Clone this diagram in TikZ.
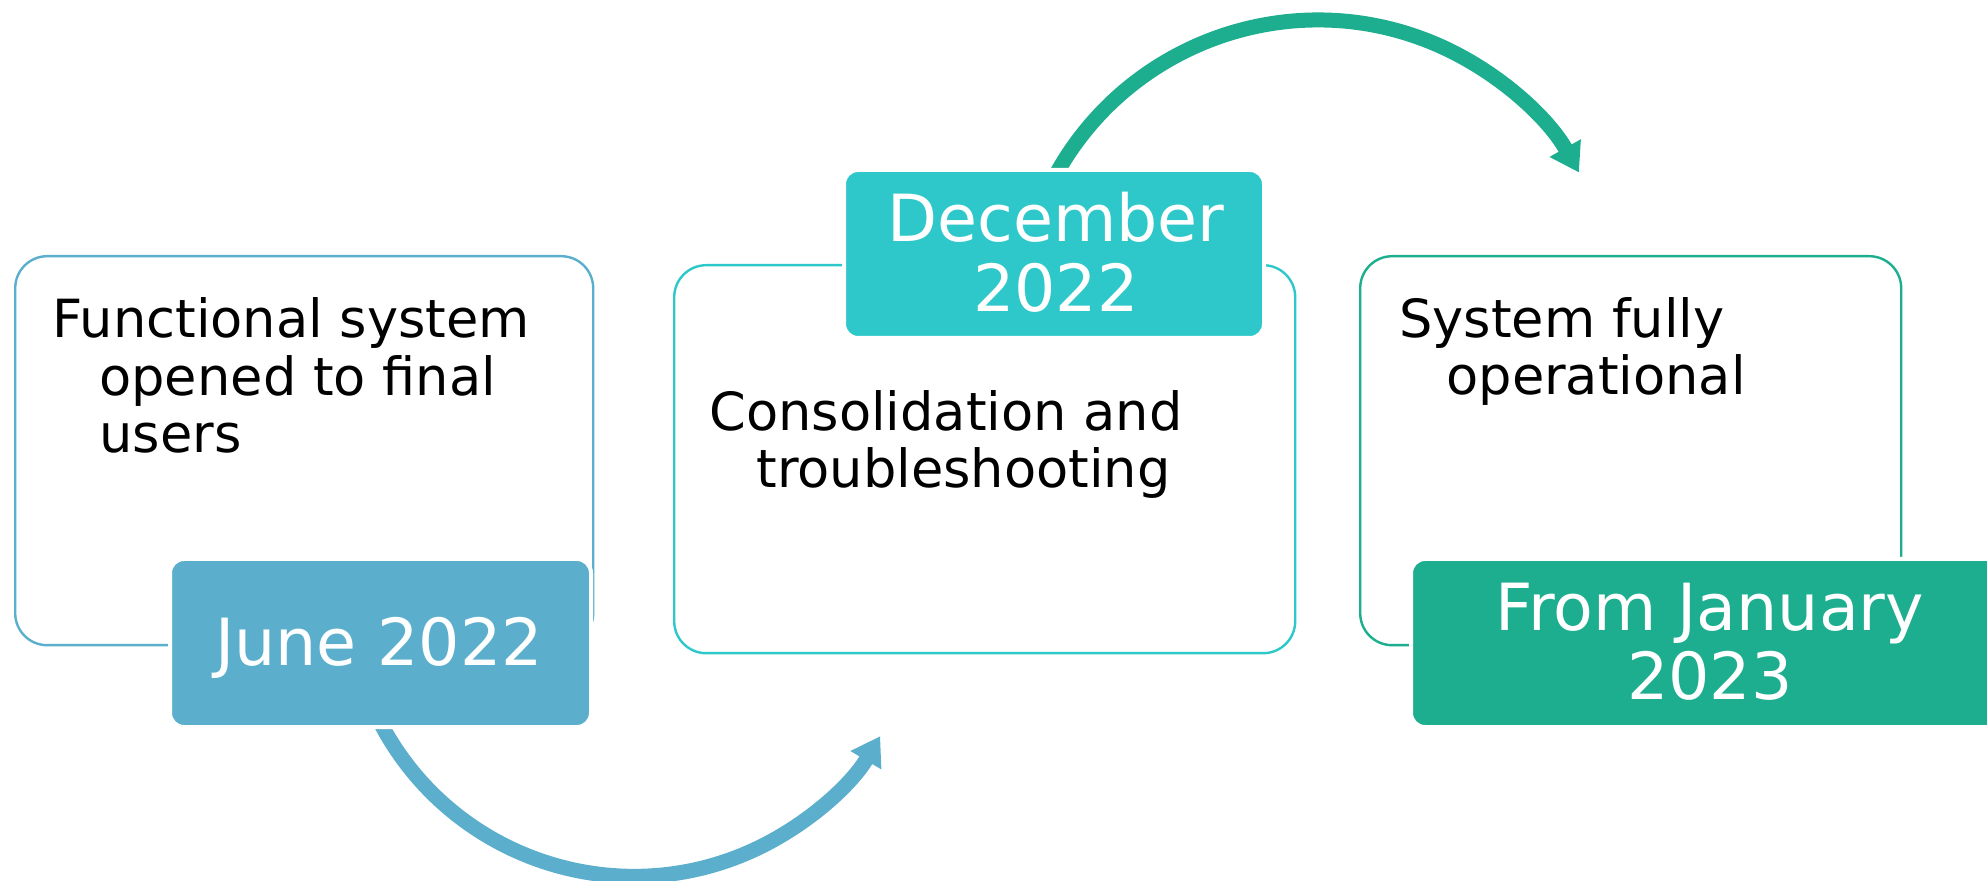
\documentclass[tikz,border=0pt]{standalone}
\usepackage{fontspec}
\setmainfont{DejaVu Sans}
\usetikzlibrary{positioning,arrows.meta}
\definecolor{juneblue}{RGB}{91,175,205}
\definecolor{decteal}{RGB}{46,200,202}
\definecolor{jangreen}{RGB}{28,174,142}
\tikzset{frame/.style={draw=#1,line width=1.2pt,rounded corners=16pt,minimum height=194.5pt,anchor=north west,inner sep=0pt}}
\tikzset{datebox/.style={fill=#1,draw=white,line width=2pt,rounded corners=7pt,minimum height=84pt,inner sep=0pt}}
\tikzset{datetext/.style={text=white,align=center,font=\fontsize{32.5pt}{35pt}\selectfont,anchor=base,inner sep=0pt}}
\tikzset{bodytext/.style={align=left,font=\fontsize{26.3pt}{28.75pt}\selectfont,anchor=base west,inner sep=0pt}}
\tikzset{turn/.style={draw=#1,line width=7.5pt,-{Triangle[width=17pt,length=14pt]}}}
\newcommand{\ind}{\hspace*{23.5pt}}

\begin{document}
\begin{tikzpicture}[x=0.5pt,y=-0.5pt]
	\useasboundingbox (0,0) rectangle (1987,881);

	%% Outline boxes
	\node[frame=juneblue,minimum width=289pt] (f1) at (14,255) {};
	\node[frame=decteal,minimum width=310.5pt,minimum height=194pt] (f2) at (673,264) {};
	\node[frame=jangreen,minimum width=270.5pt] (f3) at (1359,255) {};

	%% Turning arrows
	\coordinate (lowc) at (634,590);
	\coordinate (topc) at (1318,319.5);
	\draw[turn=juneblue] ([shift={(154.1:286.3)}]lowc) arc[start angle=154.1,end angle=30.7,radius=286.3];
	\draw[turn=jangreen] ([shift={(205.6:299.5)}]topc) arc[start angle=205.6,end angle=330.6,radius=299.5];

	%% Date boxes (base = last line)
	\node[datebox=juneblue,minimum width=210.5pt] (d1) at (380.5,643) {};
	\node[datebox=decteal,minimum width=210pt] (d2) at (1054,254) {};
	\node[datebox=jangreen,minimum width=297pt] (d3) at (1708,643) {};
	\node[datetext] (d1t) at (379,666) {June 2022};
	\node[datetext] (d2t) at (1056,312) {December\\2022};
	\node[datetext] (d3t) at (1710,700) {From January\\2023};

	%% Texts
	\node[bodytext] (t1) at (52,453) {Functional system\\\ind opened to final\\\ind users};
	\node[bodytext] (t2) at (709,488) {Consolidation and\\\ind troubleshooting};
	\node[bodytext] (t3) at (1399,395) {System fully\\\ind operational};

\end{tikzpicture}
\end{document}
